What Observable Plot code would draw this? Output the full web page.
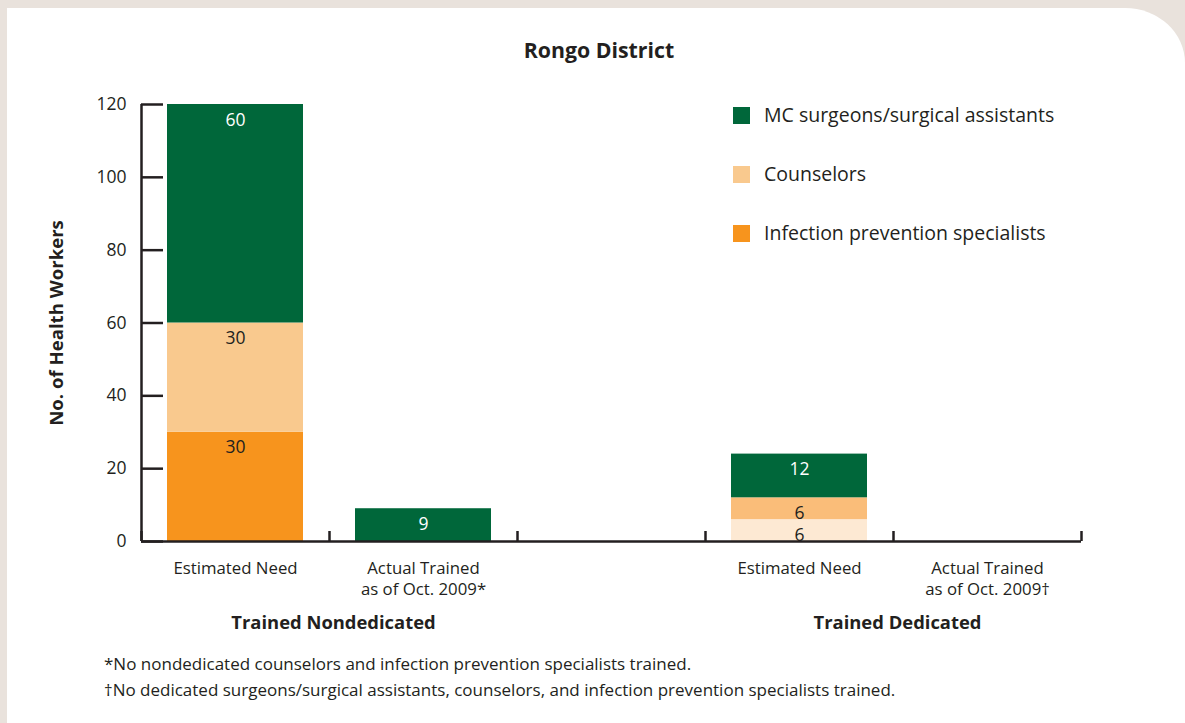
<!DOCTYPE html>
<html>
<head>
<meta charset="utf-8">
<script src="https://cdn.jsdelivr.net/npm/d3@7"></script>
<script src="https://cdn.jsdelivr.net/npm/@observablehq/plot@0.6"></script>
<style>
  html, body { margin: 0; padding: 0; }
  body { width: 1185px; height: 723px; background: #e9e2dc; position: relative; overflow: hidden; font-family: "Open Sans", sans-serif; color: #231f20; }
  #card { position: absolute; left: 7px; top: 8px; width: 1178px; height: 720px; background: #fff; border-top-right-radius: 60px 55px; }
  #title { position: absolute; left: 0; width: 1198px; top: 35px; text-align: center; font-weight: 700; font-size: 21.3px; }
  #chart { position: absolute; left: 0; top: 0; }
  #legend { position: absolute; left: 733px; top: 102px; }
  .li { position: relative; height: 59px; font-size: 19.5px; }
  .sw { position: absolute; left: 0; top: 5px; width: 17px; height: 17px; }
  .lt { position: absolute; left: 31px; top: -1px; white-space: nowrap; }
  #notes { position: absolute; left: 104px; top: 651px; font-size: 17px; line-height: 26px; }
</style>
</head>
<body>
<div id="card"></div>
<div id="chart"></div>
<div id="title"></div>
<div id="legend"></div>
<div id="notes"></div>
<script>
// ---- data ----
const title = "Rongo District";
const yLabel = "No. of Health Workers";
const columns = ["Estimated Need", "Actual Trained\nas of Oct. 2009*", "", "Estimated Need", "Actual Trained\nas of Oct. 2009\u2020"];
const groups = ["Trained Nondedicated", "Trained Dedicated"];
const groupColumns = [1, 4];           // boundary index under which each group label sits
const series = ["Infection prevention specialists", "Counselors", "MC surgeons/surgical assistants"];
const infectionPrevention = [30, 0, 0, 6, 0];
const counselors = [30, 0, 0, 6, 0];
const mcSurgeons = [60, 9, 0, 12, 0];
const yTicks = [0, 20, 40, 60, 80, 100, 120];
const legendOrder = ["MC surgeons/surgical assistants", "Counselors", "Infection prevention specialists"];
const notes = [
  "*No nondedicated counselors and infection prevention specialists trained.",
  "\u2020No dedicated surgeons/surgical assistants, counselors, and infection prevention specialists trained."
];

// ---- styles ----
const colors = {
  "Infection prevention specialists": "#f7941d",
  "Counselors": "#f9c98e",
  "MC surgeons/surgical assistants": "#00673a"
};
const dedicatedColors = {   // the dedicated bar is drawn in lighter tints in the original
  "Infection prevention specialists": "#fde9d3",
  "Counselors": "#fabd79",
  "MC surgeons/surgical assistants": "#00673a"
};
const ink = "#231f20";

// ---- build rows ----
const values = [infectionPrevention, counselors, mcSurgeons];
const rows = [];
columns.forEach((c, i) => {
  series.forEach((s, j) => {
    const v = values[j][i];
    if (v > 0) rows.push({col: i, series: s, value: v, dedicated: i >= 3});
  });
});
const fillOf = d => (d.dedicated ? dedicatedColors : colors)[d.series];

const chart = Plot.plot({
  width: 1185,
  height: 640,
  marginLeft: 141,
  marginRight: 104,
  marginTop: 104,
  marginBottom: 99,
  style: {fontFamily: "Open Sans, sans-serif", fontSize: "17px", color: ink, background: "transparent"},
  x: {type: "linear", domain: [0, columns.length], axis: null},
  y: {domain: [0, 120], axis: null},
  color: {type: "identity"},
  marks: [
    Plot.rectY(rows, {x: "col", interval: 1, y: "value", z: "series", order: series, fill: fillOf, insetLeft: 26, insetRight: 26}),
    Plot.text(rows, Plot.stackY2({x: d => d.col + 0.5, y: "value", z: "series", order: series, text: d => String(d.value),
      fill: d => d.series === "MC surgeons/surgical assistants" ? "#fff" : ink, dy: 15.5, fontSize: 17.5})),
    // y axis
    Plot.ruleX([0], {stroke: ink, strokeWidth: 2.5}),
    Plot.axisY(yTicks, {tickSize: -22, tickFormat: () => "", strokeWidth: 2.5, stroke: ink, label: null}),
    Plot.axisY(yTicks, {tickSize: 0, tickPadding: 15, fontSize: 17.5, fill: ink, label: null}),
    Plot.text([yLabel], {frameAnchor: "left", rotate: -90, dx: -84, textAnchor: "middle", text: d => d, fontWeight: 700, fontSize: 18.6, fill: ink}),
    // x axis
    Plot.ruleY([0], {stroke: ink, strokeWidth: 2.5}),
    Plot.axisX(d3.range(columns.length + 1), {tickSize: -10, tickFormat: () => "", strokeWidth: 2.5, stroke: ink, label: null}),
    Plot.axisX(d3.range(columns.length).map(i => i + 0.5), {tickSize: 0, tickPadding: 17, fontSize: 16.8, lineHeight: 1.28, fill: ink, label: null,
      tickFormat: v => columns[Math.floor(v)]}),
    Plot.text(groups, {x: (d, i) => groupColumns[i], frameAnchor: "bottom", dy: 87, dx: 4, text: d => d, fontWeight: 700, fontSize: 18.4, fill: ink})
  ]
});
document.getElementById("chart").appendChild(chart);

document.getElementById("title").textContent = title;
const legend = document.getElementById("legend");
legendOrder.forEach(s => {
  const li = document.createElement("div");
  li.className = "li";
  li.innerHTML = `<div class="sw" style="background:${colors[s]}"></div><div class="lt"></div>`;
  li.querySelector(".lt").textContent = s;
  legend.appendChild(li);
});
const notesEl = document.getElementById("notes");
notes.forEach(n => { const d = document.createElement("div"); d.textContent = n; notesEl.appendChild(d); });
</script>
</body>
</html>
